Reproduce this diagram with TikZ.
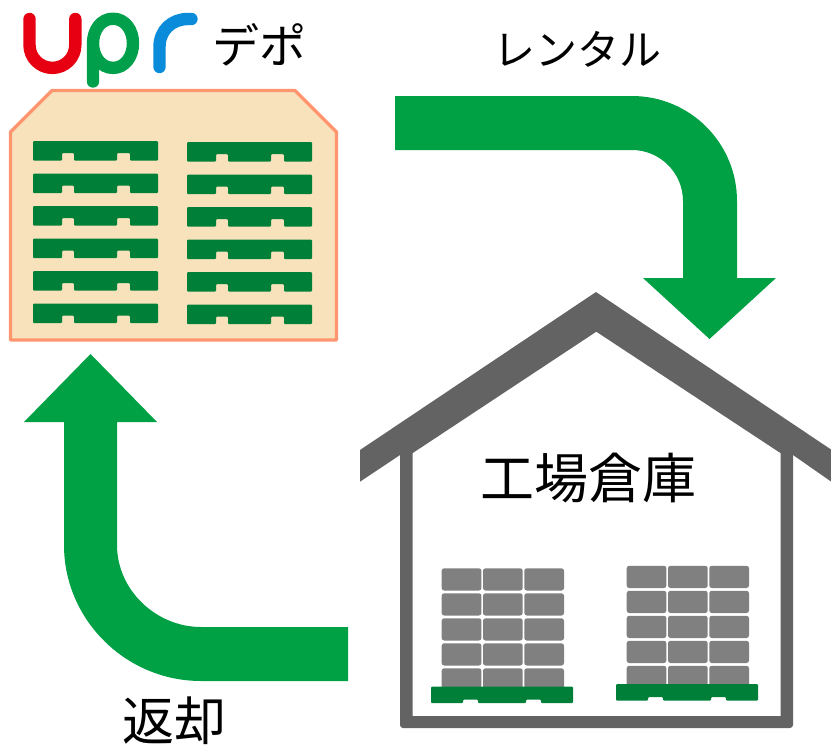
\documentclass[tikz,border=0pt]{standalone}
\usepackage{fontspec}
\newfontfamily\jpfont{Noto Sans CJK JP}
\definecolor{flow}{HTML}{00A044}
\definecolor{palletdark}{HTML}{007F38}
\definecolor{boxgray}{HTML}{808080}
\definecolor{housegray}{HTML}{636363}
\definecolor{depotfill}{HTML}{F8E2BC}
\definecolor{depotline}{HTML}{FF9670}
\definecolor{upred}{HTML}{E60012}
\definecolor{upgreen}{HTML}{009F4B}
\definecolor{upblue}{HTML}{0A8CDA}
\tikzset{
  flowarrow/.style={fill=flow,draw=none},
  logostroke/.style={line width=12.4pt,line cap=round,line join=round},
  jplabel/.style={inner sep=0pt,outer sep=0pt,text=black,font=\jpfont\fontsize{#1}{#1}\selectfont},
  cargo/.style={fill=boxgray,draw=none,rounded corners=2.5pt},
}
\newcommand{\depotpallet}[2]{%
  \fill[palletdark,rounded corners=1pt] (#1,#2) -- (#1+125,#2) -- (#1+125,#2+19.5) -- (#1+97,#2+19.5) -- (#1+97,#2+12) -- (#1+84,#2+12) -- (#1+84,#2+19.5) -- (#1+41,#2+19.5) -- (#1+41,#2+12) -- (#1+29,#2+12) -- (#1+29,#2+19.5) -- (#1,#2+19.5) -- cycle;}
\newcommand{\cargostack}[2]{%
  \foreach \c in {0,1,2}{\foreach \r in {0,1,2,3}{
    \fill[cargo] (#1+\c*41.3,#2+\r*25) rectangle (#1+\c*41.3+39.7,#2+\r*25+22.2);}
    \fill[cargo] (#1+\c*41.3,#2+100) rectangle (#1+\c*41.3+39.7,#2+122);}}
\newcommand{\bigpallet}[2]{%
  \fill[palletdark,rounded corners=1pt] (#1,#2) -- (#1+142,#2) -- (#1+142,#2+16.5) -- (#1+110,#2+16.5) -- (#1+110,#2+13) -- (#1+95,#2+13) -- (#1+95,#2+16.5) -- (#1+47,#2+16.5) -- (#1+47,#2+13) -- (#1+32,#2+13) -- (#1+32,#2+16.5) -- (#1,#2+16.5) -- cycle;}
\begin{document}
\begin{tikzpicture}[x=1pt,y=-1pt]
\useasboundingbox (0,0) rectangle (831,747);
% logo
\draw[logostroke,upred] (29.5,19) -- (29.5,45) arc[start angle=180,end angle=0,radius=22.9] -- (75.3,19);
\draw[logostroke,upgreen] (93,43.3) .. controls (93,30) and (101,18.7) .. (113,18.7) .. controls (125,18.7) and (133,30) .. (133,43.3) .. controls (133,56.6) and (125,67.9) .. (113,67.9) .. controls (101,67.9) and (93,56.6) .. (93,43.3) -- (93,81.5);
\draw[logostroke,upblue] (159.5,67) -- (159.5,47) .. controls (159.5,30) and (172,19) .. (188,19) -- (191.5,19);
\node[jplabel=47] (depotlabel) at (259,45) {デポ};
\node[jplabel=42] (rentlabel) at (577,49) {レンタル};
% depot
\draw[fill=depotfill,draw=depotline,line width=3.4pt,line join=round] (10.5,132) -- (52,90.5) -- (295,90.5) -- (336.5,132) -- (336.5,340) -- (10.5,340) -- cycle;
\foreach \n in {0,...,5}{
  \depotpallet{33}{141+\n*32.5}
  \depotpallet{187}{142+\n*32.5}
}
% flow arrows
\fill[flowarrow] (395,96) -- (632,96) .. controls (690,96) and (737,143) .. (737,201) -- (737,278) -- (776,278) -- (709.5,339) -- (643,278) -- (683,278) -- (683,201) .. controls (683,173) and (660,150) .. (632,150) -- (395,150) -- cycle;
\fill[flowarrow] (348,627) -- (201,627) .. controls (156,627) and (117,590) .. (117,545) -- (117,422) -- (157,422) -- (90.5,354) -- (24,422) -- (64,422) -- (64,545) .. controls (64,620) and (126,681) .. (201,681) -- (348,681) -- cycle;
\node[jplabel=52] (returnlabel) at (174,720.5) {返却};
% warehouse
\fill[housegray] (400,450) -- (412.5,450) -- (412.5,716) -- (780.7,716) -- (780.7,450) -- (793,450) -- (793,725) [rounded corners=3pt] -- (793,728) -- (400,728) [sharp corners] -- cycle;
\fill[housegray] (360,450) -- (596,292) -- (831,449.5) -- (831,481.5) -- (793,455) -- (780.7,453.2) -- (596.3,331.7) -- (412.5,453.2) -- (400,455) -- (360,481.7) -- cycle;
\node[jplabel=54] (factorylabel) at (588.5,478) {工場倉庫};
% stacks
\cargostack{441.7}{568.3}
\cargostack{626.7}{565.8}
\bigpallet{431}{686.5}
\bigpallet{616}{684}
\end{tikzpicture}
\end{document}
